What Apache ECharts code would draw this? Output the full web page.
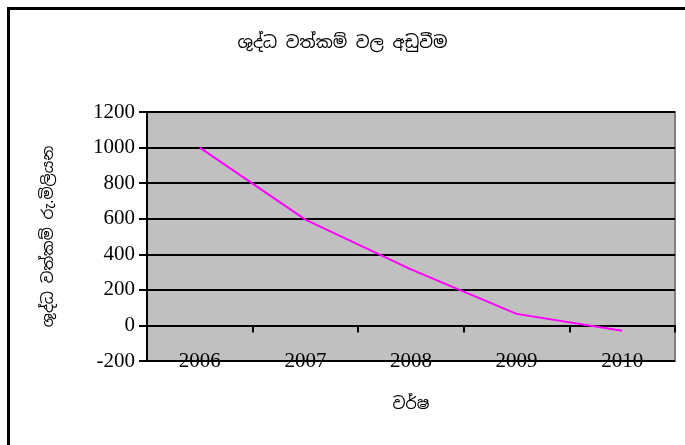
<!DOCTYPE html>
<html>
<head>
<meta charset="utf-8">
<script src="https://cdn.jsdelivr.net/npm/echarts@6/dist/echarts.min.js"></script>
<style>html,body{margin:0;padding:0;background:#fff}#c{width:685px;height:445px}</style>
</head>
<body>
<div id="c"></div>
<script>
const titleText = 'ශුද්ධ වත්කම් වල අඩුවීම';
const yAxisName = 'ශුද්ධ වත්කම් රු.මිලියන';
const xAxisName = 'වර්ෂ';
const years = ['2006', '2007', '2008', '2009', '2010'];
const netAssets = [1000, 595, 315, 65, -30];
const yMin = -200, yMax = 1200, yStep = 200;

const serif = '"Liberation Serif", "DejaVu Serif", serif';
const sinhala = '"Noto Sans Sinhala", "Noto Sans", "DejaVu Sans", sans-serif';

const chart = echarts.init(document.getElementById('c'), null, {renderer: 'canvas'});
chart.setOption({
  animation: false,
  backgroundColor: '#fff',
  title: {
    text: titleText, left: 'center', top: 30,
    textStyle: {fontFamily: sinhala, fontSize: 17, fontWeight: 'normal', color: '#000'}
  },
  grid: {
    left: 147, right: 10, top: 112, bottom: 84,
    containLabel: false, outerBoundsMode: 'none',
    show: true, backgroundColor: '#C0C0C0', borderColor: '#808080', borderWidth: 2
  },
  xAxis: {
    type: 'category', data: years, boundaryGap: true,
    axisLine: {onZero: true, lineStyle: {color: '#000', width: 2}},
    axisTick: {show: true, inside: false, length: 7, lineStyle: {color: '#000', width: 2}},
    axisLabel: {margin: -10, color: '#000', fontFamily: serif, fontSize: 21},
    name: xAxisName, nameLocation: 'middle', nameGap: 36,
    nameTextStyle: {fontFamily: sinhala, fontSize: 16, color: '#000'}
  },
  yAxis: {
    type: 'value', min: yMin, max: yMax, interval: yStep,
    axisLine: {show: true, lineStyle: {color: '#000', width: 2}},
    axisTick: {show: true, inside: false, length: 8, lineStyle: {color: '#000', width: 2}},
    axisLabel: {margin: 12, color: '#000', fontFamily: serif, fontSize: 21, formatter: v => String(v)},
    splitLine: {show: true, lineStyle: {color: '#000', width: 2}},
    name: yAxisName, nameLocation: 'middle', nameGap: 90, nameRotate: 90,
    nameTextStyle: {fontFamily: sinhala, fontSize: 15.5, color: '#000'}
  },
  series: [{
    type: 'line', data: netAssets, symbol: 'none',
    lineStyle: {color: '#FF00FF', width: 2}
  }],
  graphic: [
    {type: 'line', shape: {x1: 7, y1: 8.5, x2: 685, y2: 8.5}, style: {stroke: '#000', lineWidth: 3}, silent: true},
    {type: 'line', shape: {x1: 8.5, y1: 7, x2: 8.5, y2: 445}, style: {stroke: '#000', lineWidth: 3}, silent: true}
  ]
});
</script>
</body>
</html>
